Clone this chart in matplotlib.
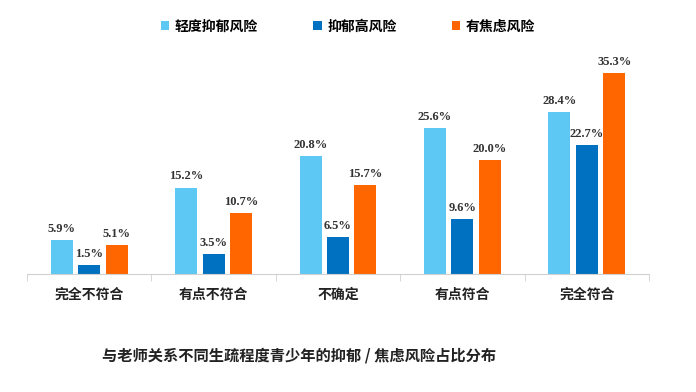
import matplotlib
matplotlib.use('Agg')
import matplotlib.pyplot as plt
import numpy as np

plt.rcParams['font.family'] = ['Noto Sans CJK SC', 'DejaVu Sans']

categories = ['完全不符合', '有点不符合', '不确定', '有点符合', '完全符合']
series_names = ['轻度抑郁风险', '抑郁高风险', '有焦虑风险']
mild = [5.9, 15.2, 20.8, 25.6, 28.4]
high = [1.5, 3.5, 6.5, 9.6, 22.7]
anxiety = [5.1, 10.7, 15.7, 20.0, 35.3]
colors = ['#5DC8F3', '#0070C0', '#FF6600']
title = '与老师关系不同生疏程度青少年的抑郁 / 焦虑风险占比分布'

fig = plt.figure(figsize=(6.96, 3.92), dpi=100)
ax = fig.add_axes([0.0388, 0.301, 0.8937, 0.5806])

x = np.arange(len(categories))
width = 0.177
step = 0.22
for i, (vals, name, c) in enumerate(zip([mild, high, anxiety], series_names, colors)):
    pos = x + (i - 1) * step
    ax.bar(pos, vals, width, color=c, label=name)
    for p, v in zip(pos, vals):
        ax.text(p, v + 0.9, '{:.1f}%'.format(v), ha='center', va='bottom',
                fontsize=9, fontweight='bold', family='Liberation Serif', color='#333333')

ax.set_xlim(-0.5, len(categories) - 0.5)
ax.set_ylim(0, 40)
ax.set_yticks([])
for s in ['top', 'right', 'left']:
    ax.spines[s].set_visible(False)
ax.spines['bottom'].set_color('#d0d0d0')
ax.set_xticks(np.arange(len(categories) + 1) - 0.5, minor=True)
ax.tick_params(axis='x', which='minor', length=5, color='#d0d0d0')
ax.set_xticks(x)
ax.set_xticklabels(categories, fontsize=10, fontweight='bold', color='#222222')
ax.tick_params(axis='x', which='major', length=0, pad=10)

fig.legend(loc='center', bbox_to_anchor=(0.5, 0.932), ncol=3, frameon=False,
           handlelength=0.6, handleheight=0.6, columnspacing=4.0,
           handletextpad=0.4, prop={'weight': 'bold', 'size': 10})

fig.text(0.43, 0.093, title, ha='center', va='center', fontsize=11, fontweight='bold', color='#222222')

fig.savefig('out.png', dpi=100)
